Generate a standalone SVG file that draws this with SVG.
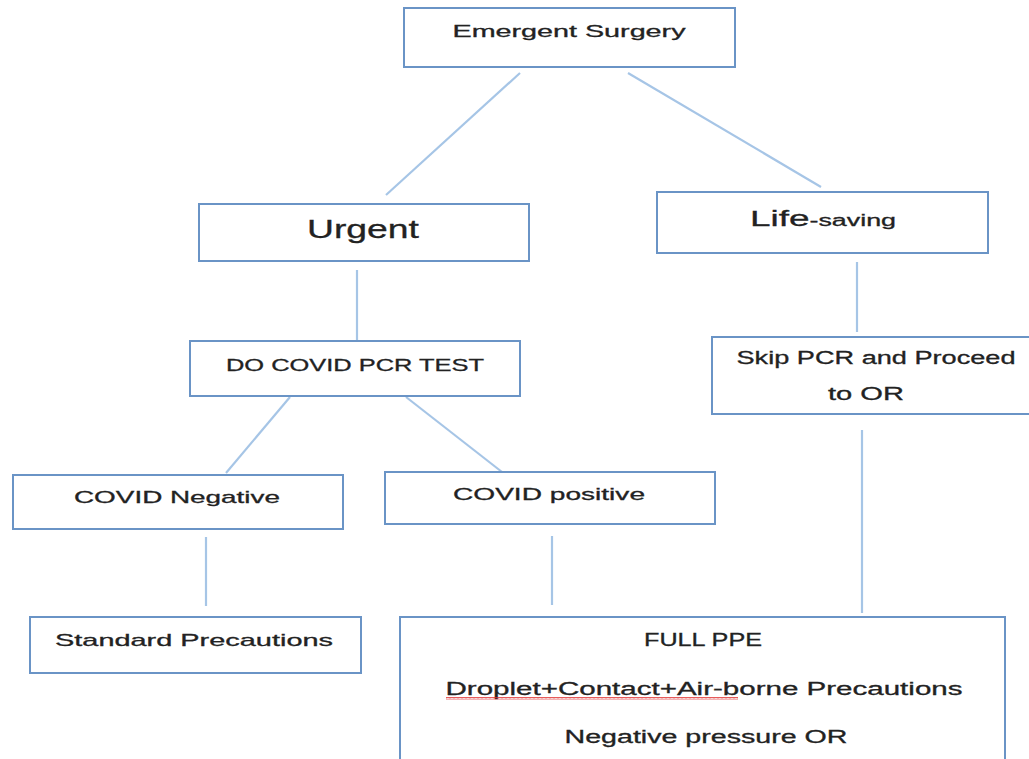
<svg xmlns="http://www.w3.org/2000/svg" width="1029" height="759" viewBox="0 0 1029 759">
<style>
.box{fill:#fff;stroke:#6a94c6;stroke-width:2}
.t{font-family:"Liberation Sans",Arial,sans-serif;fill:#222;stroke:#222;stroke-width:0.3;text-anchor:middle}
.c line{stroke:#a6c5e6;stroke-width:2.2}
</style>
<defs>
<pattern id="sq" x="0" y="0" width="4" height="3" patternUnits="userSpaceOnUse">
<path d="M0 2.5 L1 0.5 L2 2.5 L3 0.5 L4 2.5" fill="none" stroke="#e03030" stroke-width="0.8"/>
</pattern>
</defs>
<rect width="1029" height="759" fill="#fff"/>
<g class="c" id="connectors">
<line x1="520" y1="73" x2="386" y2="195"/>
<line x1="628" y1="73" x2="821" y2="187"/>
<line x1="357" y1="270" x2="357" y2="340"/>
<line x1="857" y1="262" x2="857" y2="332"/>
<line x1="290" y1="397" x2="226" y2="473"/>
<line x1="406" y1="397" x2="502" y2="472"/>
<line x1="206" y1="537" x2="206" y2="606"/>
<line x1="552" y1="536" x2="552" y2="605"/>
<line x1="862" y1="430" x2="862" y2="613"/>
</g>
<g id="emergent">
<rect class="box" x="404" y="8" width="331" height="59"/>
<text class="t" x="569" y="37" font-size="17" textLength="233" lengthAdjust="spacingAndGlyphs">Emergent Surgery</text>
</g>
<g id="urgent">
<rect class="box" x="199" y="204" width="330" height="57"/>
<text class="t" x="363" y="238" font-size="25" textLength="112" lengthAdjust="spacingAndGlyphs">Urgent</text>
</g>
<g id="lifesaving">
<rect class="box" x="657" y="192" width="331" height="61"/>
<text class="t" x="823" y="226" font-size="22" textLength="146" lengthAdjust="spacingAndGlyphs">Life<tspan font-size="16">-saving</tspan></text>
</g>
<g id="pcr">
<rect class="box" x="190" y="341" width="330" height="55"/>
<text class="t" x="355" y="371" font-size="17" textLength="258" lengthAdjust="spacingAndGlyphs">DO COVID PCR TEST</text>
</g>
<g id="skip">
<rect class="box" x="712" y="337" width="330" height="77"/>
<text class="t" x="876" y="364" font-size="18" textLength="279" lengthAdjust="spacingAndGlyphs">Skip PCR and Proceed</text>
<text class="t" x="866" y="400" font-size="18" textLength="76" lengthAdjust="spacingAndGlyphs">to OR</text>
</g>
<g id="negative">
<rect class="box" x="13" y="475" width="330" height="54"/>
<text class="t" x="177" y="503" font-size="17" textLength="206" lengthAdjust="spacingAndGlyphs">COVID Negative</text>
</g>
<g id="positive">
<rect class="box" x="385" y="472" width="330" height="52"/>
<text class="t" x="549" y="500" font-size="17" textLength="192" lengthAdjust="spacingAndGlyphs">COVID positive</text>
</g>
<g id="standard">
<rect class="box" x="30" y="617" width="331" height="56"/>
<text class="t" x="194" y="646" font-size="17" textLength="278" lengthAdjust="spacingAndGlyphs">Standard Precautions</text>
</g>
<g id="fullppe">
<rect class="box" x="400" y="617" width="605" height="160"/>
<text class="t" x="703" y="646" font-size="18" textLength="118" lengthAdjust="spacingAndGlyphs">FULL PPE</text>
<text class="t" x="704" y="695" font-size="18" textLength="517" lengthAdjust="spacingAndGlyphs">Droplet+Contact+Air-borne Precautions</text>
<rect x="446" y="697" width="292" height="3" fill="url(#sq)"/>
<text class="t" x="706" y="743" font-size="18" textLength="283" lengthAdjust="spacingAndGlyphs">Negative pressure OR</text>
</g>
</svg>
